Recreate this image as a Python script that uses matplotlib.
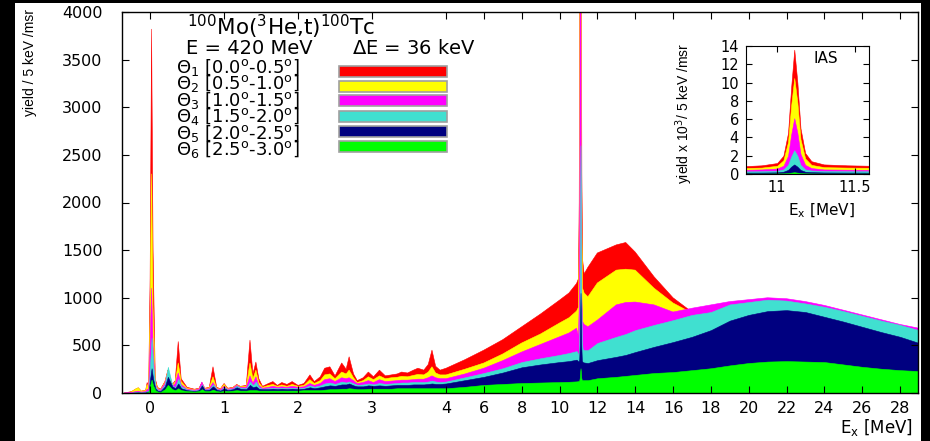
import numpy as np
import matplotlib
matplotlib.use("Agg")
import matplotlib.pyplot as plt
from matplotlib.patches import Rectangle

plt.rcParams['font.family'] = ['DejaVu Sans']
plt.rcParams['mathtext.fontset'] = 'dejavusans'

# ---------------- data: main spectrum (yield / 5 keV / msr) ----------------
ex = [-0.35, -0.25, -0.2, -0.16, -0.12, -0.06, -0.04, -0.02, 0.0, 0.02, 0.04, 0.07, 0.1, 0.14,
      0.2, 0.24, 0.3, 0.34, 0.38, 0.42, 0.5, 0.6, 0.66, 0.7, 0.74, 0.8, 0.85, 0.9, 0.95,
      1.0, 1.05, 1.12, 1.17, 1.22, 1.3, 1.35, 1.39, 1.43, 1.47, 1.52, 1.6, 1.66, 1.72, 1.78,
      1.85, 1.92, 2.0, 2.08, 2.16, 2.22, 2.3, 2.36, 2.43, 2.5, 2.59, 2.65, 2.69, 2.75, 2.8,
      2.88, 2.95, 3.02, 3.1, 3.18, 3.26, 3.34, 3.4, 3.48, 3.56, 3.62, 3.7, 3.76, 3.81, 3.86,
      3.92, 4.0, 5.0, 6.0, 7.0, 8.0, 9.0, 10.0, 10.5,
      10.9, 11.0, 11.04, 11.07, 11.09, 11.11, 11.13, 11.15, 11.18, 11.22, 11.3,
      11.5, 12.0, 13.0, 13.5, 14.0, 15.0, 16.0, 17.0, 18.0, 19.0, 20.0, 21.0, 22.0, 23.0, 24.0,
      25.0, 26.0, 27.0, 28.0, 29.0]

theta1 = [0, 15, 40, 55, 20, 30, 110, 60, 1200, 3820, 1500, 150, 60, 40,
          120, 240, 90, 130, 540, 150, 60, 40, 50, 110, 50, 60, 275, 60, 45,
          100, 50, 60, 90, 70, 80, 555, 200, 325, 150, 70, 100, 120, 80, 110,
          90, 120, 80, 100, 190, 120, 170, 260, 275, 180, 315, 250, 380, 200, 130,
          160, 220, 170, 240, 180, 190, 200, 220, 210, 240, 260, 240, 300, 450, 280,
          240, 260, 350, 450, 560, 695, 830, 975, 1050,
          1150, 1200, 2000, 4500, 9500, 13600, 10000, 5000, 2300, 1400, 1250,
          1320, 1470, 1555, 1580, 1480, 1220, 1000, 850, 800, 780, 760, 750, 740, 720, 700,
          680, 660, 640, 620, 600]

theta2 = [0, 12, 40, 55, 20, 25, 90, 50, 800, 2300, 900, 120, 50, 35,
          110, 230, 80, 120, 315, 120, 50, 35, 45, 105, 45, 55, 170, 50, 40,
          90, 45, 55, 85, 65, 70, 315, 150, 240, 110, 60, 80, 90, 70, 85,
          70, 90, 70, 80, 140, 100, 130, 190, 200, 150, 220, 200, 240, 160, 110,
          130, 170, 140, 180, 150, 160, 165, 175, 170, 185, 195, 190, 220, 275, 210,
          190, 190, 250, 315, 410, 525, 620, 735, 790,
          860, 900, 1500, 3500, 7500, 10500, 7800, 3800, 1700, 1100, 1050,
          1010, 1155, 1290, 1300, 1290, 1100, 945, 840, 820, 800, 780, 770, 760, 740, 720,
          700, 680, 660, 640, 620]

theta3 = [0, 5, 15, 20, 10, 15, 40, 30, 500, 1100, 500, 90, 40, 30,
          100, 220, 70, 100, 210, 90, 40, 30, 40, 115, 40, 45, 110, 45, 35,
          70, 40, 50, 80, 60, 60, 180, 100, 170, 80, 50, 60, 70, 60, 65,
          60, 70, 60, 65, 100, 80, 100, 140, 150, 120, 160, 150, 160, 130, 100,
          110, 130, 110, 140, 120, 125, 130, 135, 135, 140, 145, 145, 160, 180, 160,
          150, 150, 200, 260, 340, 430, 510, 590, 630,
          680, 600, 900, 2000, 4300, 6100, 4500, 2200, 1000, 750, 720,
          695, 765, 925, 950, 955, 925, 850, 890, 925, 960, 980, 1000, 990, 960, 920,
          870, 820, 770, 720, 680]

theta4 = [0, 3, 10, 10, 6, 10, 25, 20, 300, 580, 300, 70, 30, 25,
          90, 275, 80, 60, 150, 70, 35, 25, 35, 90, 35, 40, 90, 40, 30,
          60, 35, 45, 75, 55, 50, 120, 80, 120, 60, 45, 50, 55, 50, 55,
          50, 55, 50, 55, 80, 65, 80, 100, 110, 95, 120, 110, 120, 100, 85,
          90, 100, 90, 105, 95, 100, 105, 110, 110, 115, 115, 115, 120, 130, 120,
          115, 120, 165, 210, 260, 325, 365, 400, 420,
          440, 400, 500, 1000, 1900, 2600, 2000, 1000, 550, 460, 450,
          450, 525, 590, 620, 660, 715, 765, 820, 850, 930, 955, 980, 970, 940, 905,
          860, 810, 760, 715, 660]

theta5 = [0, 2, 5, 6, 4, 6, 15, 15, 150, 260, 150, 50, 25, 20,
          70, 170, 70, 50, 100, 50, 30, 20, 30, 80, 30, 35, 70, 35, 25,
          50, 30, 40, 60, 45, 40, 85, 60, 70, 45, 40, 40, 45, 40, 45,
          40, 45, 40, 45, 60, 50, 60, 70, 80, 75, 90, 90, 100, 80, 70,
          70, 80, 75, 80, 75, 80, 85, 85, 85, 90, 90, 90, 95, 100, 95,
          95, 100, 135, 170, 215, 270, 300, 325, 335,
          350, 330, 350, 500, 800, 1050, 800, 500, 340, 325, 320,
          315, 345, 380, 400, 430, 485, 535, 590, 660, 760, 820, 860, 870, 850, 800,
          750, 695, 640, 590, 525]

theta6 = [0, 1, 3, 3, 2, 3, 8, 10, 80, 140, 80, 30, 15, 10,
          40, 85, 40, 30, 50, 30, 20, 15, 20, 40, 20, 20, 35, 20, 15,
          25, 20, 25, 30, 25, 25, 30, 30, 30, 25, 25, 25, 25, 25, 25,
          25, 25, 25, 30, 30, 30, 30, 35, 40, 40, 45, 45, 50, 45, 40,
          40, 45, 45, 45, 45, 45, 50, 50, 50, 50, 50, 50, 50, 50, 50,
          50, 50, 65, 85, 95, 105, 110, 115, 118,
          122, 125, 130, 160, 220, 260, 220, 160, 135, 135, 135,
          135, 155, 170, 180, 190, 210, 220, 240, 260, 290, 315, 330, 335, 330, 325,
          300, 275, 255, 240, 230]

# ---------------- data: inset (IAS region, yield x 10^3 / 5 keV / msr) ----------------
ias_ex = [10.78, 10.9, 11.0, 11.04, 11.07, 11.09, 11.11, 11.13, 11.15, 11.18, 11.22, 11.3, 11.45, 11.6]
ias1 = [0.85, 0.95, 1.2, 2.0, 4.5, 9.5, 13.6, 10.0, 5.0, 2.3, 1.4, 1.05, 0.95, 0.9]
ias2 = [0.65, 0.7, 0.9, 1.5, 3.5, 7.5, 10.5, 7.8, 3.8, 1.7, 1.0, 0.75, 0.7, 0.68]
ias3 = [0.45, 0.5, 0.6, 0.9, 2.0, 4.3, 6.1, 4.5, 2.2, 1.0, 0.65, 0.5, 0.47, 0.45]
ias4 = [0.28, 0.3, 0.35, 0.5, 1.0, 1.9, 2.6, 2.0, 1.0, 0.5, 0.38, 0.32, 0.3, 0.3]
ias5 = [0.15, 0.16, 0.18, 0.25, 0.45, 0.8, 1.05, 0.8, 0.45, 0.25, 0.2, 0.17, 0.16, 0.15]
ias6 = [0.05, 0.05, 0.06, 0.07, 0.1, 0.15, 0.2, 0.15, 0.1, 0.07, 0.06, 0.05, 0.05, 0.05]

legend_labels = [r'$\Theta_1$ [0.0$^{\rm o}$-0.5$^{\rm o}$]',
                 r'$\Theta_2$ [0.5$^{\rm o}$-1.0$^{\rm o}$]',
                 r'$\Theta_3$ [1.0$^{\rm o}$-1.5$^{\rm o}$]',
                 r'$\Theta_4$ [1.5$^{\rm o}$-2.0$^{\rm o}$]',
                 r'$\Theta_5$ [2.0$^{\rm o}$-2.5$^{\rm o}$]',
                 r'$\Theta_6$ [2.5$^{\rm o}$-3.0$^{\rm o}$]']
colors = ['#ff0000', '#ffff00', '#ff00ff', '#40e0d0', '#000080', '#00ff00']
xticks = [0, 1, 2, 3, 4, 6, 8, 10, 12, 14, 16, 18, 20, 22, 24, 26, 28]
yticks = [0, 500, 1000, 1500, 2000, 2500, 3000, 3500, 4000]

# ---------------- figure ----------------
W, H = 930, 441
fig = plt.figure(figsize=(W / 100, H / 100), dpi=100, facecolor='white')

def fx(px):
    return px / W

def fy(py):
    return 1 - py / H

R = 0.2557
def fwd(x):
    x = np.asarray(x, dtype=float)
    return np.where(x <= 4, x, 4 + (x - 4) * R)

def inv(u):
    u = np.asarray(u, dtype=float)
    return np.where(u <= 4, u, 4 + (u - 4) / R)

ax = fig.add_axes([fx(122), fy(393), fx(918) - fx(122), fy(12) - fy(393)])
ax.set_xscale('function', functions=(fwd, inv))
series = [theta1, theta2, theta3, theta4, theta5, theta6]
for vals, c in zip(series, colors):
    ax.fill_between(ex, 0, vals, color=c, lw=0.4, edgecolor=c)
ax.set_xlim(-0.38, 28.95)
ax.set_ylim(0, 4000)
ax.set_xticks(xticks)
ax.set_xticklabels([str(t) for t in xticks])
ax.set_yticks(yticks)
ax.tick_params(direction='in', top=True, right=True, length=5, width=0.8,
               labelsize=11.5)
ax.tick_params(axis='y', pad=14)
ax.tick_params(axis='x', pad=6)
ax.minorticks_off()
for s in ax.spines.values():
    s.set_linewidth(1.0)
ax.set_ylabel('yield / 5 keV /msr', family='Liberation Sans', fontsize=10)
ax.yaxis.set_label_coords((37 - 122) / 796, (393 - 63) / 381)

fig.text(fx(913), fy(427), r'E$_{\rm x}$ [MeV]', ha='right', va='center', fontsize=12)

# title lines
fig.text(fx(187), fy(35), r'$^{100}$Mo($^{3}$He,t)$^{100}$Tc', ha='left', va='baseline', fontsize=15.5)
fig.text(fx(186), fy(54), 'E = 420 MeV', ha='left', va='baseline', fontsize=14)
fig.text(fx(352), fy(54), r'$\Delta$E = 36 keV', ha='left', va='baseline', fontsize=14)

# legend: one multi-line text block plus colour bars
ycent = [71, 86, 101, 116, 131, 146]
fig.text(fx(176), fy(108.5), '\n'.join(legend_labels), ha='left', va='center',
         fontsize=13, linespacing=0.72)
for c, yc in zip(colors, ycent):
    fig.add_artist(Rectangle((fx(339), fy(yc + 5.5)), fx(447) - fx(339), 11 / H,
                             transform=fig.transFigure, facecolor=c,
                             edgecolor='#a0a0a0', lw=1.2))

# inset
ax2 = fig.add_axes([fx(746), fy(174), fx(869) - fx(746), fy(46) - fy(174)])
for vals, c in zip([ias1, ias2, ias3, ias4, ias5, ias6], colors):
    ax2.fill_between(ias_ex, 0, vals, color=c, lw=0.4, edgecolor=c)
ax2.set_xlim(10.8, 11.59)
ax2.set_ylim(0, 14)
ax2.set_xticks([11, 11.5])
ax2.set_xticklabels(['11', '11.5'])
ax2.set_yticks([0, 2, 4, 6, 8, 10, 12, 14])
ax2.tick_params(direction='in', top=True, right=True, length=4, width=0.8, labelsize=10.5)
ax2.tick_params(axis='y', pad=5)
ax2.tick_params(axis='x', pad=4)
ax2.text(0.55, 0.9, 'IAS', transform=ax2.transAxes, fontsize=11, ha='left', va='center')
ax2.set_ylabel(r'yield x 10$^3$/ 5 keV /msr', family='Liberation Sans', fontsize=10)
ax2.yaxis.set_label_coords((695 - 746) / 123, (174 - 113) / 128)
ax2.set_xlabel(r'E$_{\rm x}$ [MeV]', fontsize=11)
ax2.xaxis.set_label_coords((822 - 746) / 123, -(202 - 174) / 128)

# black frame strips of the original screenshot
fig.add_artist(Rectangle((0, 0), fx(15), 1, transform=fig.transFigure, color='black', lw=0))
fig.add_artist(Rectangle((0, fy(3)), 1, 3 / H, transform=fig.transFigure, color='black', lw=0))
fig.add_artist(Rectangle((fx(921), 0), 1 - fx(921), 1, transform=fig.transFigure, color='black', lw=0))

fig.savefig('out.png', dpi=100, facecolor='white')
